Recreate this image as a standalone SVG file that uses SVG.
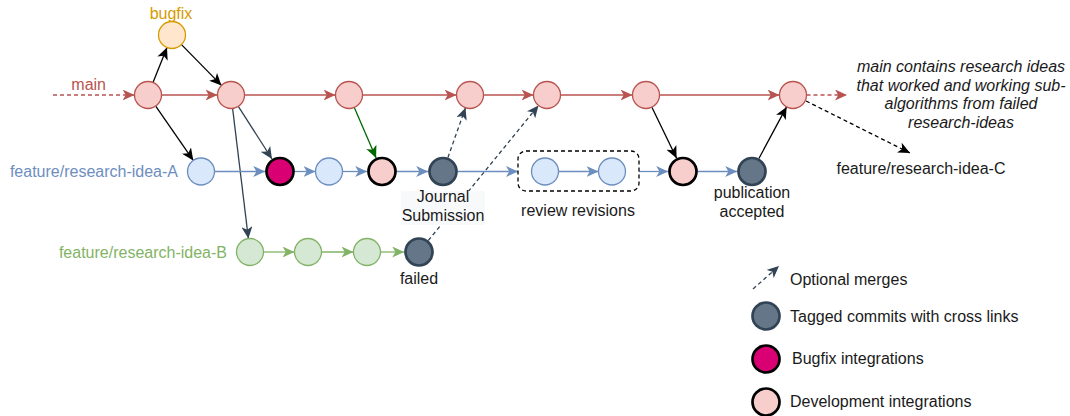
<svg xmlns="http://www.w3.org/2000/svg" width="1070" height="416" viewBox="0 0 1070 416">
<style>
text{font-family:"Liberation Sans",Arial,sans-serif;font-size:16px;fill:#1a1a1a}
.c{stroke-width:1.3}
.main{fill:#f8cecc;stroke:#b85450}
.blue{fill:#dae8fc;stroke:#6c8ebf}
.green{fill:#d5e8d4;stroke:#82b366}
.bug{fill:#ffe6cc;stroke:#d79b00}
.tag{fill:#647687;stroke:#314354;stroke-width:2.7}
.bi{fill:#d80073;stroke:#000;stroke-width:2.7}
.di{fill:#f8cecc;stroke:#000;stroke-width:2.7}
.e{fill:none;stroke-width:1.3}
.r{stroke:#b85450;marker-end:url(#aR)}
.k{stroke:#000;marker-end:url(#aK)}
.d{stroke:#314354;marker-end:url(#aD)}
.g{stroke:#006600;marker-end:url(#aG)}
.b{stroke:#6c8ebf;marker-end:url(#aB)}
.gr{stroke:#82b366;marker-end:url(#aGr)}
.dash{stroke-dasharray:4 3}
</style>
<defs>
<marker id="aR" markerUnits="userSpaceOnUse" markerWidth="13" markerHeight="11" refX="12" refY="5.5" orient="auto"><path d="M0,0 L12,5.5 L0,11 L3.2,5.5 Z" fill="#b85450"/></marker>
<marker id="aK" markerUnits="userSpaceOnUse" markerWidth="13" markerHeight="11" refX="12" refY="5.5" orient="auto"><path d="M0,0 L12,5.5 L0,11 L3.2,5.5 Z" fill="#000"/></marker>
<marker id="aD" markerUnits="userSpaceOnUse" markerWidth="13" markerHeight="11" refX="12" refY="5.5" orient="auto"><path d="M0,0 L12,5.5 L0,11 L3.2,5.5 Z" fill="#314354"/></marker>
<marker id="aG" markerUnits="userSpaceOnUse" markerWidth="13" markerHeight="11" refX="12" refY="5.5" orient="auto"><path d="M0,0 L12,5.5 L0,11 L3.2,5.5 Z" fill="#006600"/></marker>
<marker id="aB" markerUnits="userSpaceOnUse" markerWidth="13" markerHeight="11" refX="12" refY="5.5" orient="auto"><path d="M0,0 L12,5.5 L0,11 L3.2,5.5 Z" fill="#6c8ebf"/></marker>
<marker id="aGr" markerUnits="userSpaceOnUse" markerWidth="13" markerHeight="11" refX="12" refY="5.5" orient="auto"><path d="M0,0 L12,5.5 L0,11 L3.2,5.5 Z" fill="#82b366"/></marker>
</defs>
<rect width="1070" height="416" fill="#fff"/>
<g id="connectors">
<line class="e r dash" x1="53" y1="95" x2="134.5" y2="95"/>
<line class="e r" x1="161.5" y1="95" x2="217.5" y2="95"/>
<line class="e r" x1="244.5" y1="95" x2="335.5" y2="95"/>
<line class="e r" x1="362.5" y1="95" x2="456.5" y2="95"/>
<line class="e r" x1="483.5" y1="95" x2="533.5" y2="95"/>
<line class="e r" x1="560.5" y1="95" x2="632.5" y2="95"/>
<line class="e r" x1="659.5" y1="95" x2="779.5" y2="95"/>
<line class="e r dash" x1="806.5" y1="95" x2="847" y2="95"/>
<line class="e k" x1="153" y1="82.5" x2="167" y2="47.5"/>
<line class="e k" x1="181.5" y1="44.6" x2="221.5" y2="85.4"/>
<line class="e k" x1="155.7" y1="106.1" x2="193.3" y2="160.4"/>
<line class="e d" x1="238.3" y1="106.4" x2="272" y2="159"/>
<line class="e d" x1="232.6" y1="108.4" x2="248.4" y2="238.6"/>
<line class="e g" x1="354.3" y1="107.4" x2="376.1" y2="157.9"/>
<line class="e k" x1="651.9" y1="107.2" x2="676.6" y2="158.2"/>
<line class="e k" x1="758.9" y1="158.5" x2="786.6" y2="106.9"/>
<line class="e k dash" x1="806" y1="101" x2="910" y2="153"/>
<line class="e d dash" x1="447.9" y1="157.6" x2="465.5" y2="107.7"/>
<line class="e d dash" x1="428.3" y1="240.5" x2="538.5" y2="105.5"/>
<line class="e b" x1="214.5" y1="171.5" x2="265.2" y2="171.5"/>
<line class="e b" x1="294.8" y1="171.5" x2="315.5" y2="171.5"/>
<line class="e b" x1="342.5" y1="171.5" x2="367.2" y2="171.5"/>
<line class="e b" x1="396.8" y1="171.5" x2="428.2" y2="171.5"/>
<line class="e b" x1="457.8" y1="171.5" x2="518" y2="171.5"/>
<line class="e b" x1="558.5" y1="171.5" x2="598.5" y2="171.5"/>
<line class="e b" x1="639" y1="171.5" x2="668.2" y2="171.5"/>
<line class="e b" x1="697.8" y1="171.5" x2="737.2" y2="171.5"/>
<line class="e gr" x1="263.5" y1="252" x2="294.5" y2="252"/>
<line class="e gr" x1="321.5" y1="252" x2="353.5" y2="252"/>
<line class="e gr" x1="380.5" y1="252" x2="404.2" y2="252"/>
<line class="e d dash" x1="753" y1="289" x2="779" y2="266"/>
</g>
<g id="main-branch">
<text x="106" y="90" text-anchor="end" style="fill:#b85450">main</text>
<circle class="c main" cx="148" cy="95" r="13.5"/>
<circle class="c main" cx="231" cy="95" r="13.5"/>
<circle class="c main" cx="349" cy="95" r="13.5"/>
<circle class="c main" cx="470" cy="95" r="13.5"/>
<circle class="c main" cx="547" cy="95" r="13.5"/>
<circle class="c main" cx="646" cy="95" r="13.5"/>
<circle class="c main" cx="793" cy="95" r="13.5"/>
</g>
<g id="bugfix">
<text x="171" y="19" text-anchor="middle" style="fill:#d79b00">bugfix</text>
<circle class="c bug" cx="172" cy="35" r="13.5"/>
</g>
<g id="feature-A">
<text x="178" y="177" text-anchor="end" style="fill:#6c8ebf">feature/research-idea-A</text>
<circle class="c blue" cx="201" cy="171.5" r="13.5"/>
<circle class="bi" cx="280" cy="171.5" r="13.5"/>
<circle class="c blue" cx="329" cy="171.5" r="13.5"/>
<circle class="di" cx="382" cy="171.5" r="13.5"/>
<circle class="tag" cx="443" cy="171.5" r="13.5"/>
<rect x="401" y="191" width="84" height="34" fill="#f8f9fa"/>
<text x="443" y="202" text-anchor="middle">Journal</text>
<text x="443" y="221" text-anchor="middle">Submission</text>
<circle class="di" cx="683" cy="171.5" r="13.5"/>
<circle class="tag" cx="752" cy="171.5" r="13.5"/>
<text x="752" y="198" text-anchor="middle">publication</text>
<text x="752" y="217" text-anchor="middle">accepted</text>
</g>
<g id="review">
<rect x="518" y="151" width="121" height="40" rx="8" fill="none" stroke="#000" stroke-width="1.3" stroke-dasharray="4 3"/>
<circle class="c blue" cx="545" cy="171.5" r="13.5"/>
<circle class="c blue" cx="612" cy="171.5" r="13.5"/>
<text x="578" y="216" text-anchor="middle">review revisions</text>
</g>
<g id="feature-B">
<text x="227" y="258" text-anchor="end" style="fill:#82b366">feature/research-idea-B</text>
<circle class="c green" cx="250" cy="252" r="13.5"/>
<circle class="c green" cx="308" cy="252" r="13.5"/>
<circle class="c green" cx="367" cy="252" r="13.5"/>
<circle class="tag" cx="419" cy="252" r="13.5"/>
<text x="419" y="284" text-anchor="middle">failed</text>
</g>
<g id="feature-C">
<text x="921" y="174" text-anchor="middle">feature/research-idea-C</text>
</g>
<g id="note">
<text x="961" y="72" text-anchor="middle" font-style="italic">main contains research ideas</text>
<text x="961" y="90.5" text-anchor="middle" font-style="italic">that worked and working sub-</text>
<text x="961" y="109" text-anchor="middle" font-style="italic">algorithms from failed</text>
<text x="961" y="128" text-anchor="middle" font-style="italic">research-ideas</text>
</g>
<g id="legend">
<text x="790" y="285">Optional merges</text>
<circle class="tag" cx="766" cy="316" r="13.5"/>
<text x="790" y="322">Tagged commits with cross links</text>
<circle class="bi" cx="766" cy="359" r="13.5"/>
<text x="792" y="364">Bugfix integrations</text>
<circle class="di" cx="766" cy="402" r="13.5"/>
<text x="790" y="407">Development integrations</text>
</g>
</svg>
